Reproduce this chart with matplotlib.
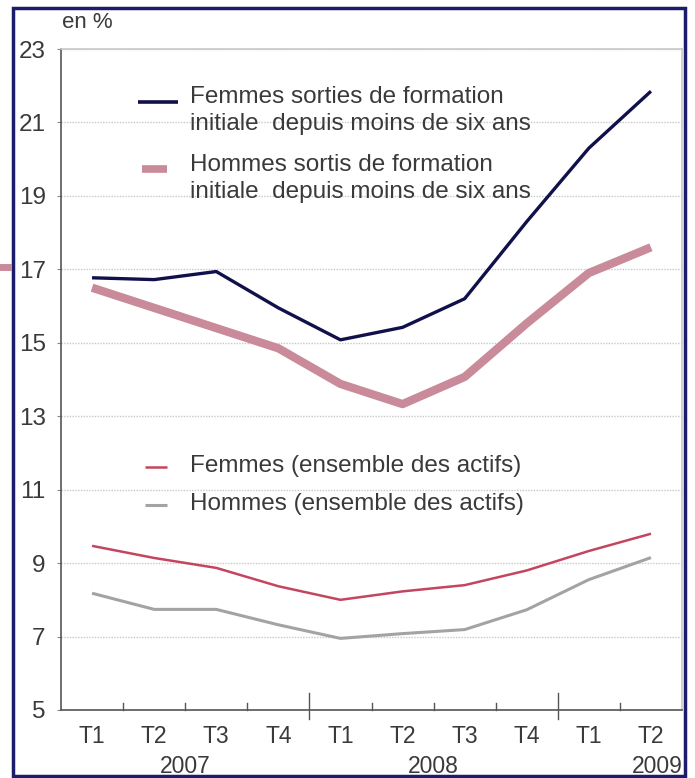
import matplotlib
matplotlib.use("Agg")
import matplotlib.pyplot as plt
from matplotlib.patches import Rectangle
from matplotlib.lines import Line2D

plt.rcParams['font.family'] = ['Liberation Sans', 'DejaVu Sans']

quarters = ["T1", "T2", "T3", "T4", "T1", "T2", "T3", "T4", "T1", "T2"]
years = ["2007", "2008", "2009"]
femmes_jeunes = [16.77, 16.72, 16.94, 15.95, 15.08, 15.42, 16.2, 18.3, 20.3, 21.85]
hommes_jeunes = [16.5, 15.95, 15.4, 14.85, 13.88, 13.33, 14.07, 15.53, 16.9, 17.6]
femmes_ens = [9.47, 9.14, 8.87, 8.37, 8.0, 8.23, 8.4, 8.8, 9.33, 9.8]
hommes_ens = [8.18, 7.74, 7.74, 7.32, 6.95, 7.08, 7.19, 7.73, 8.55, 9.15]
yticks = [5, 7, 9, 11, 13, 15, 17, 19, 21, 23]

navy = "#10104a"
pink = "#c98a9a"
red = "#c4455f"
grey = "#a3a3a3"
txt = "#3a3a3a"
FS_LEG = 17.5
FS_TICK = 16.5

fig = plt.figure(figsize=(6.95, 7.78), dpi=100)
ax = fig.add_axes([61/695, 1-710/778, (682-61)/695, (710-49)/778])

x = list(range(len(quarters)))
ax.plot(x, hommes_ens, color=grey, lw=2.2, solid_capstyle='butt')
ax.plot(x, femmes_ens, color=red, lw=1.8, solid_capstyle='butt')
ax.plot(x, hommes_jeunes, color=pink, lw=6, solid_capstyle='butt')
ax.plot(x, femmes_jeunes, color=navy, lw=2.4, solid_capstyle='butt')

ax.set_xlim(-0.5, 9.5)
ax.set_ylim(5, 23)
ax.set_yticks(yticks)
ax.set_yticklabels([str(v) for v in yticks], fontsize=17.5, color=txt)
ax.tick_params(axis='y', length=3, width=0.8, color="#888888", pad=8)
ax.grid(axis='y', color="#c8c8c8", lw=1.0, ls=(0, (1, 1)))
ax.set_axisbelow(True)

ax.set_xticks(x)
ax.set_xticklabels(quarters, fontsize=FS_TICK, color=txt)
ax.tick_params(axis='x', length=0, pad=11)
for b in [0.5, 1.5, 2.5, 4.5, 5.5, 6.5, 8.5]:
    ax.plot([b, b], [5, 5.18], color="#555555", lw=1, clip_on=False)
for b in [3.5, 7.5]:
    ax.plot([b, b], [4.75, 5.45], color="#555555", lw=1, clip_on=False)

for s in ['left', 'bottom']:
    ax.spines[s].set_color("#555555")
    ax.spines[s].set_linewidth(1.2)
for s in ['top', 'right']:
    ax.spines[s].set_color("#c8c8c8")
    ax.spines[s].set_linewidth(1.2)

trans = ax.get_xaxis_transform()
ax.text(1.5, -0.085, years[0], transform=trans, ha='center', va='center', fontsize=FS_TICK, color=txt)
ax.text(5.5, -0.085, years[1], transform=trans, ha='center', va='center', fontsize=FS_TICK, color=txt)
ax.text(9.1, -0.085, years[2], transform=trans, ha='center', va='center', fontsize=FS_TICK, color=txt)

def fx(px):
    return px/695
def fy(py):
    return 1-py/778

fig.text(fx(62), fy(22), "en %", fontsize=16, color=txt, va='center', ha='left')

fig.add_artist(Line2D([fx(138), fx(178)], [fy(102), fy(102)], color=navy, lw=2.6, solid_capstyle='butt'))
fig.add_artist(Line2D([fx(142), fx(167)], [fy(169), fy(169)], color=pink, lw=5.5, solid_capstyle='butt'))
legend_lines = [
    (97, "Femmes sorties de formation"),
    (124, "initiale  depuis moins de six ans"),
    (165, "Hommes sortis de formation"),
    (192, "initiale  depuis moins de six ans"),
]
for py, s in legend_lines:
    fig.text(fx(190), fy(py), s, fontsize=FS_LEG, color=txt, va='center', ha='left')

legend2 = [
    (466, red, 1.8, "Femmes (ensemble des actifs)"),
    (504, grey, 2.2, "Hommes (ensemble des actifs)"),
]
for py, col, lw, label in legend2:
    fig.add_artist(Line2D([fx(145), fx(167)], [fy(py + 1), fy(py + 1)], color=col, lw=lw, solid_capstyle='butt'))
    fig.text(fx(190), fy(py), label, fontsize=FS_LEG, color=txt, va='center', ha='left')

fig.add_artist(Rectangle((fx(13), fy(776)), fx(685)-fx(13), fy(8)-fy(776), fill=False,
                         edgecolor="#1c1c6a", lw=2.5, transform=fig.transFigure))
fig.add_artist(Line2D([fx(0), fx(8)], [fy(267), fy(267)], color=pink, lw=5))

fig.savefig("out.png", dpi=100)
